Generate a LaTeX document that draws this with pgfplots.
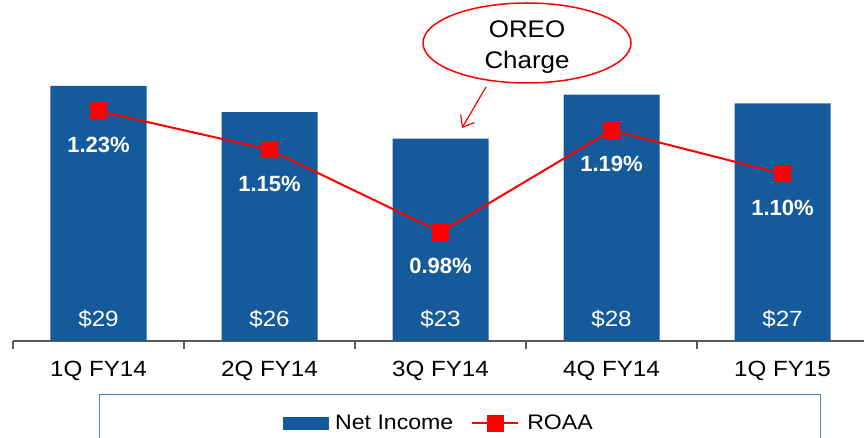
\documentclass[border=0pt]{standalone}
\usepackage{fontspec}
\setmainfont{Liberation Sans}
\usepackage{graphicx}
\usepackage{pgfplots}
\pgfplotsset{compat=1.18}
\usetikzlibrary{arrows.meta,shapes.geometric}

\definecolor{barblue}{RGB}{21,90,155}
\definecolor{roared}{RGB}{255,0,0}
\definecolor{axisgray}{RGB}{90,90,90}
\definecolor{boxblue}{RGB}{84,130,190}

\pgfplotstableread{
x income roaa
0 29 1.23
1 26 1.15
2 23 0.98
3 28 1.19
4 27 1.10
}\datatable

% the slide's text is a little wider than plain Arial
\newcommand{\wide}[2][1.1]{\scalebox{#1}[1]{#2}}

\pgfplotsset{
  roaa legend/.style={legend image code/.code={%
    \draw[mark repeat=2,mark phase=2,##1] plot coordinates {(0pt,0pt) (23pt,0pt) (46pt,0pt)};}},
}

\begin{document}
\begin{tikzpicture}[x=1pt,y=1pt]
\useasboundingbox (0,0) rectangle (864,438);
% legend frame, cut by the lower edge as on the slide
\draw[boxblue, line width=1pt] (99,-30) rectangle (820,43);

\begin{axis}[
  at={(13pt,97pt)}, anchor=south west,
  scale only axis, width=855pt, height=341pt,
  xmin=-0.5, xmax=4.5, ymin=0, ymax=38.75,
  axis x line*=bottom, axis y line=none,
  axis line style={axisgray, line width=1.5pt},
  xtick={-0.5,0.5,...,4.5},
  x tick label as interval,
  xticklabels={\wide{1Q FY14},\wide{2Q FY14},\wide{3Q FY14},\wide{4Q FY14},\wide{1Q FY15}},
  xticklabel style={font=\fontsize{22}{26}\selectfont, text=black, anchor=center, yshift=-22pt},
  tick align=outside, major tick length=8pt,
  major tick style={axisgray, line width=1.5pt},
  ytick=\empty,
  clip=false,
]
\addplot[ybar, bar width=96pt, fill=barblue, draw=none] table[x=x,y=income]{\datatable};
\node[text=white, font=\fontsize{22}{26}\selectfont] at (axis cs:0,0) [yshift=22pt] {\wide{\$29}};
\node[text=white, font=\fontsize{22}{26}\selectfont] at (axis cs:1,0) [yshift=22pt] {\wide{\$26}};
\node[text=white, font=\fontsize{22}{26}\selectfont] at (axis cs:2,0) [yshift=22pt] {\wide{\$23}};
\node[text=white, font=\fontsize{22}{26}\selectfont] at (axis cs:3,0) [yshift=22pt] {\wide{\$28}};
\node[text=white, font=\fontsize{22}{26}\selectfont] at (axis cs:4,0) [yshift=22pt] {\wide{\$27}};
\end{axis}

\begin{axis}[
  at={(13pt,97pt)}, anchor=south west,
  scale only axis, width=855pt, height=341pt,
  xmin=-0.5, xmax=4.5, ymin=0.755, ymax=1.459,
  hide axis, clip=false,
  legend columns=2,
  legend style={at={(0.498,-0.2405)}, anchor=center, draw=none, fill=none,
    font=\fontsize{21}{25}\selectfont,
    /tikz/every even column/.append style={column sep=16pt}},
]
\addlegendimage{legend image code/.code={\fill[barblue] (0pt,-6pt) rectangle (45pt,6pt);}}
\addlegendentry{\hspace{5pt}\wide{Net Income}}
\addplot[roared, line width=2pt, mark=square*, mark size=8pt,
  mark options={solid, fill=roared, draw=roared, line width=0pt},
  roaa legend,
  nodes near coords={\pgfmathprintnumber[fixed,fixed zerofill,precision=2,assume math mode=true]{\pgfplotspointmeta}\%},
  every node near coord/.style={anchor=center, yshift=-34pt, text=white, font=\bfseries\fontsize{22}{26}\selectfont},
] table[x=x,y=roaa]{\datatable};
\addlegendentry{\hspace{6pt}\wide{ROAA}}
\end{axis}

% callout
\node[draw=roared, line width=1.5pt, ellipse, minimum width=208pt, minimum height=80pt,
  inner sep=0pt] at (527,395) {};
\node[align=center, font=\fontsize{24}{31}\selectfont, inner sep=0pt] at (527,391)
  {\wide[1.08]{OREO}\\\wide[1.08]{Charge}};
\draw[roared, line width=1.2pt, -{Straight Barb[length=10pt,width=16pt]}] (486,351) -- (462,310);
\end{tikzpicture}
\end{document}
